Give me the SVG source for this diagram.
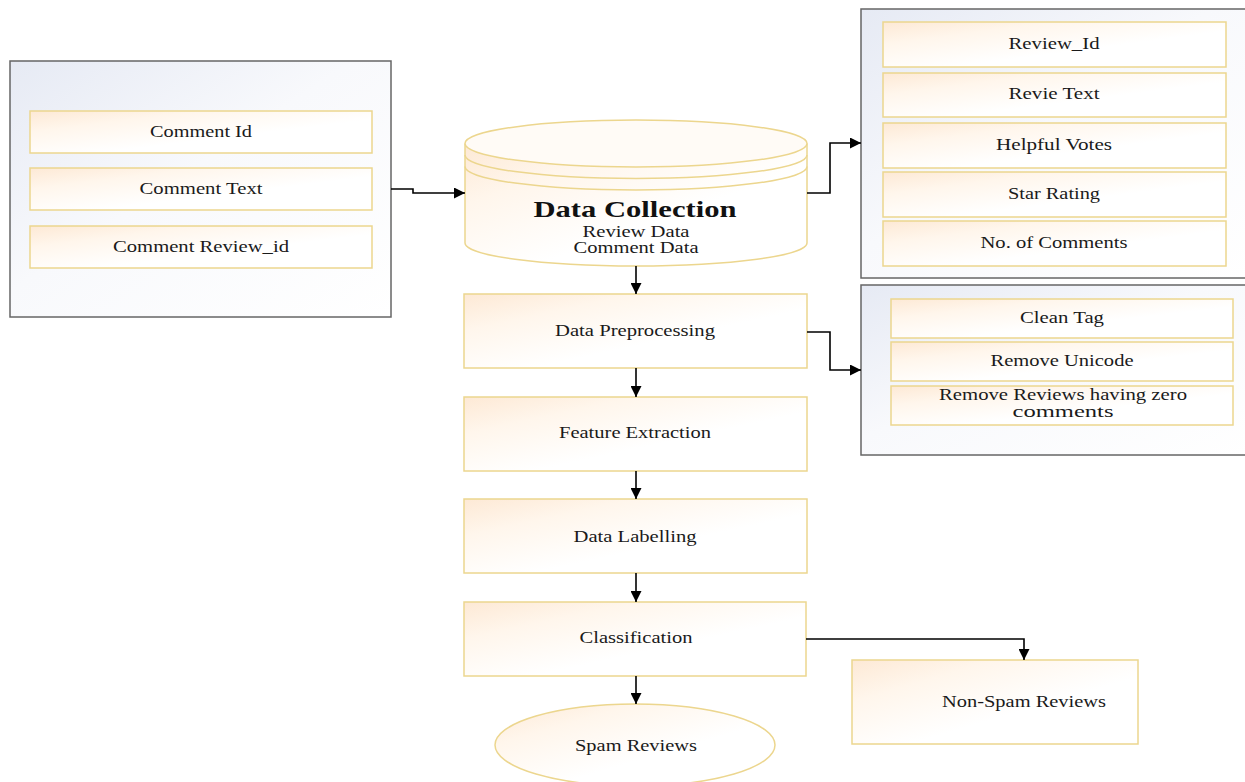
<svg xmlns="http://www.w3.org/2000/svg" width="1245" height="782" viewBox="0 0 1245 782">
<defs>
<linearGradient id="gBox" x1="0" y1="0" x2="1" y2="1">
<stop offset="0" stop-color="#fde9d5"/>
<stop offset="0.25" stop-color="#fff6ec"/>
<stop offset="0.6" stop-color="#ffffff"/>
<stop offset="1" stop-color="#ffffff"/>
</linearGradient>
<linearGradient id="gCont" x1="0" y1="0" x2="1" y2="1">
<stop offset="0" stop-color="#e6eaf4"/>
<stop offset="0.45" stop-color="#f8f9fc"/>
<stop offset="1" stop-color="#ffffff"/>
</linearGradient>
<marker id="ah" viewBox="0 0 10 10" refX="10" refY="5" markerWidth="12" markerHeight="11" markerUnits="userSpaceOnUse" orient="auto">
<path d="M0,0 L10,5 L0,10 z" fill="#000"/>
</marker>
<style>
.cont{fill:url(#gCont);stroke:#666;stroke-width:1.5}
.box{fill:url(#gBox);stroke:#ecd68e;stroke-width:1.5}
.t{font-family:"Liberation Serif","Times New Roman",serif;font-size:16px;fill:#1a1a1a;text-anchor:middle}
.conn{fill:none;stroke:#000;stroke-width:1.6;marker-end:url(#ah)}
</style>
</defs>

<g id="comment-data">
<rect class="cont" x="10" y="61" width="381" height="256"/>
<rect class="box" x="30" y="111" width="342" height="42"/>
<text class="t" x="201" y="137" textLength="102" lengthAdjust="spacingAndGlyphs">Comment Id</text>
<rect class="box" x="30" y="168" width="342" height="42"/>
<text class="t" x="201" y="194" textLength="123" lengthAdjust="spacingAndGlyphs">Comment Text</text>
<rect class="box" x="30" y="226" width="342" height="42"/>
<text class="t" x="201" y="252" textLength="176" lengthAdjust="spacingAndGlyphs">Comment Review_id</text>
</g>

<g id="review-data">
<rect class="cont" x="861" y="9" width="390" height="269"/>
<rect class="box" x="883" y="22" width="343" height="45"/>
<text class="t" x="1054" y="49" textLength="91" lengthAdjust="spacingAndGlyphs">Review_Id</text>
<rect class="box" x="883" y="73" width="343" height="44"/>
<text class="t" x="1054" y="99" textLength="91" lengthAdjust="spacingAndGlyphs">Revie Text</text>
<rect class="box" x="883" y="123" width="343" height="45"/>
<text class="t" x="1054" y="150" textLength="116" lengthAdjust="spacingAndGlyphs">Helpful Votes</text>
<rect class="box" x="883" y="172" width="343" height="45"/>
<text class="t" x="1054" y="199" textLength="92" lengthAdjust="spacingAndGlyphs">Star Rating</text>
<rect class="box" x="883" y="221" width="343" height="45"/>
<text class="t" x="1054" y="248" textLength="147" lengthAdjust="spacingAndGlyphs">No. of Comments</text>
</g>

<g id="preprocessing-steps">
<rect class="cont" x="861" y="285" width="390" height="170"/>
<rect class="box" x="891" y="299" width="342" height="39"/>
<text class="t" x="1062" y="323" textLength="84" lengthAdjust="spacingAndGlyphs">Clean Tag</text>
<rect class="box" x="891" y="342" width="342" height="39"/>
<text class="t" x="1062" y="366" textLength="143" lengthAdjust="spacingAndGlyphs">Remove Unicode</text>
<rect class="box" x="891" y="386" width="342" height="39"/>
<text class="t" x="1063" y="400" textLength="248" lengthAdjust="spacingAndGlyphs">Remove Reviews having zero</text>
<text class="t" x="1063" y="417" textLength="101" lengthAdjust="spacingAndGlyphs">comments</text>
</g>

<g id="data-collection">
<path d="M465,143.5 V243 A171,23 0 0 0 807,243 V143.5" fill="url(#gBox)" stroke="#ecd68e" stroke-width="1.5"/>
<ellipse cx="636" cy="143.5" rx="171" ry="23.5" fill="#fffbf6" stroke="#ecd68e" stroke-width="1.5"/>
<path d="M465,155 A171,23.5 0 0 0 807,155" fill="none" stroke="#ecd68e" stroke-width="1.5"/>
<path d="M465,166.5 A171,23.5 0 0 0 807,166.5" fill="none" stroke="#ecd68e" stroke-width="1.5"/>
<text x="635" y="217" font-family="'Liberation Serif','Times New Roman',serif" font-size="22.5" font-weight="bold" text-anchor="middle" fill="#111" textLength="203" lengthAdjust="spacingAndGlyphs">Data Collection</text>
<text class="t" x="636" y="237" textLength="107" lengthAdjust="spacingAndGlyphs">Review Data</text>
<text class="t" x="636" y="253" textLength="125" lengthAdjust="spacingAndGlyphs">Comment Data</text>
</g>

<g id="data-preprocessing">
<rect class="box" x="464" y="294" width="343" height="74"/>
<text class="t" x="635" y="336" textLength="160" lengthAdjust="spacingAndGlyphs">Data Preprocessing</text>
</g>

<g id="feature-extraction">
<rect class="box" x="464" y="397" width="343" height="74"/>
<text class="t" x="635" y="438" textLength="152" lengthAdjust="spacingAndGlyphs">Feature Extraction</text>
</g>

<g id="data-labelling">
<rect class="box" x="464" y="499" width="343" height="74"/>
<text class="t" x="635" y="542" textLength="123" lengthAdjust="spacingAndGlyphs">Data Labelling</text>
</g>

<g id="classification">
<rect class="box" x="464" y="602" width="342" height="74"/>
<text class="t" x="636" y="643" textLength="113" lengthAdjust="spacingAndGlyphs">Classification</text>
</g>

<g id="spam-reviews">
<ellipse cx="635" cy="745" rx="140" ry="41" fill="url(#gBox)" stroke="#ecd68e" stroke-width="1.5"/>
<text class="t" x="636" y="751" textLength="122" lengthAdjust="spacingAndGlyphs">Spam Reviews</text>
</g>

<g id="non-spam-reviews">
<rect class="box" x="852" y="660" width="286" height="84"/>
<text class="t" x="1024" y="707" textLength="164" lengthAdjust="spacingAndGlyphs">Non-Spam Reviews</text>
</g>

<g id="connectors">
<path class="conn" d="M391,189 H413 V193 H465"/>
<path class="conn" d="M807,193 H830 V143 H861"/>
<path class="conn" d="M807,332 H830 V370 H861"/>
<path class="conn" d="M806,639 H1024 V660"/>
<path class="conn" d="M636,266 V294"/>
<path class="conn" d="M636,368 V397"/>
<path class="conn" d="M636,471 V499"/>
<path class="conn" d="M636,573 V602"/>
<path class="conn" d="M636,676 V704"/>
</g>
</svg>
